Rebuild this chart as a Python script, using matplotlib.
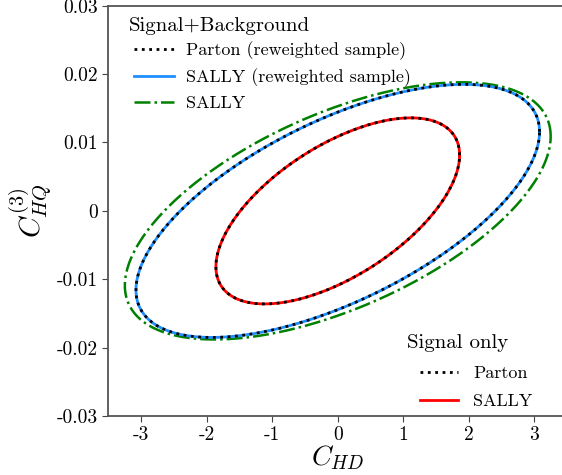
import numpy as np
import matplotlib
matplotlib.use("Agg")
import matplotlib.pyplot as plt

plt.rcParams["font.family"] = "serif"
plt.rcParams["font.serif"] = ["cmr10", "DejaVu Serif"]
plt.rcParams["mathtext.fontset"] = "cm"
plt.rcParams["axes.unicode_minus"] = False
plt.rcParams["axes.formatter.use_mathtext"] = True

# contour ellipses: centre, half extent along x and y, correlation
sb_parton = dict(cx=0.0, cy=0.0, hx=3.08, hy=0.0185, rho=0.625)
sb_sally_rw = dict(cx=0.0, cy=0.0, hx=3.08, hy=0.0185, rho=0.625)
sb_sally = dict(cx=0.0, cy=0.0, hx=3.25, hy=0.0188, rho=0.58)
s_parton = dict(cx=0.0, cy=0.0, hx=1.86, hy=0.0136, rho=0.6)
s_sally = dict(cx=0.0, cy=0.0, hx=1.86, hy=0.0136, rho=0.6)

xticks = [-3, -2, -1, 0, 1, 2, 3]
xticklabels = ["-3", "-2", "-1", "0", "1", "2", "3"]
yticks = [-0.03, -0.02, -0.01, 0.0, 0.01, 0.02, 0.03]
yticklabels = ["-0.03", "-0.02", "-0.01", "0", "0.01", "0.02", "0.03"]


def ellipse(p, n=400):
    t = np.linspace(0, 2 * np.pi, n)
    d = np.arccos(p["rho"])
    return p["cx"] + p["hx"] * np.cos(t), p["cy"] + p["hy"] * np.cos(t - d)


fig = plt.figure(figsize=(5.62, 4.75), dpi=100)
ax = fig.add_axes([0.193, 0.124, 0.816, 0.864])

x, y = ellipse(sb_sally)
l3, = ax.plot(x, y, color="green", ls="-.", lw=1.8, label="SALLY")
x, y = ellipse(sb_sally_rw)
l2, = ax.plot(x, y, color="#1f8fff", ls="-", lw=2.0, label="SALLY (reweighted sample)")
x, y = ellipse(sb_parton)
l1, = ax.plot(x, y, color="black", ls=":", lw=2.0, label="Parton (reweighted sample)")

x, y = ellipse(s_sally)
l5, = ax.plot(x, y, color="red", ls="-", lw=2.0, label="SALLY")
x, y = ellipse(s_parton)
l4, = ax.plot(x, y, color="black", ls=":", lw=2.0, label="Parton")

ax.set_xlim(-3.5, 3.5)
ax.set_ylim(-0.03, 0.03)
ax.set_xticks(xticks)
ax.set_xticklabels(xticklabels)
ax.set_yticks(yticks)
ax.set_yticklabels(yticklabels)
ax.tick_params(labelsize=14, direction="out", length=4, color="#444444")
for s in ax.spines.values():
    s.set_color("#555555")
    s.set_linewidth(1.3)

ax.set_xlabel("$C_{HD}$", fontsize=20, labelpad=-1)
ax.set_ylabel("$C_{HQ}^{(3)}$", fontsize=21, labelpad=2)

leg1 = ax.legend(handles=[l1, l2, l3], title="Signal+Background", loc="upper left",
                 bbox_to_anchor=(0.021, 1.0), frameon=False, fontsize=13,
                 title_fontsize=15, alignment="left", borderaxespad=0.2,
                 labelspacing=0.45, handlelength=2.2, handletextpad=0.7)
leg1._legend_handle_box.pad = 3.6
leg1._legend_box.sep = 1.5
ax.add_artist(leg1)
leg2 = ax.legend(handles=[l4, l5], title="Signal only", loc="lower right",
                 bbox_to_anchor=(0.98, -0.046), frameon=False, fontsize=13,
                 title_fontsize=15, alignment="left", borderaxespad=0.3,
                 labelspacing=0.68, handlelength=2.15, handletextpad=0.8)
leg2._legend_handle_box.pad = 9.4
leg2._legend_box.sep = 0.5

fig.savefig("out.png", dpi=100)
